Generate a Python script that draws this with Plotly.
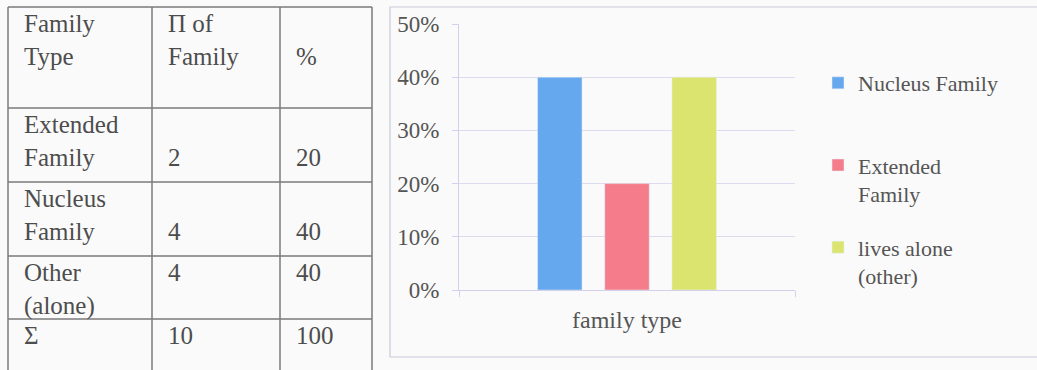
import plotly.graph_objects as go

W, H = 1037, 370

# ---- table data ----
header = ["Family<br>Type", "Π of<br>Family", "%"]
family_types = ["Extended<br>Family", "Nucleus<br>Family", "Other<br>(alone)"]
counts = [2, 4, 4]
percents = [20, 40, 40]
total_label = "Σ"
total_count = 10
total_percent = 100

# ---- chart data ----
series_names = ["Nucleus Family", "Extended<br>Family", "lives alone<br>(other)"]
series_values = [40, 20, 40]
category = ["family type"]
y_ticks = [0, 10, 20, 30, 40, 50]
y_tick_labels = [f"{v}%" for v in y_ticks]

# ---- styles ----
colors = ["#65a8ee", "#f57d8b", "#dbe46e"]
header_line = [1, 1, 2]     # which line the header text starts on
value_line = [2, 2, 1]      # which line numbers sit on in body rows
legend_pad_lines = [1, 0, 0]
text_color = "#4d4d4d"
FONT = "Liberation Serif, Times New Roman, serif"

col_edges = [8, 152, 280, 372]
row_edges = [7, 108, 182, 256, 319]


def fx(x):
    return x / W


def fy(y):
    return 1 - y / H


fig = go.Figure()
for name, val, col, pad in zip(series_names, series_values, colors, legend_pad_lines):
    label = name + "<br>&nbsp;" * pad
    fig.add_trace(go.Bar(x=category, y=[val], name=label, marker_color=col,
                         legendgroup=name))

shapes = []
annotations = []
line_style = dict(color="#7a7a7a", width=1.5)
# table grid
for x in col_edges:
    shapes.append(dict(type="line", xref="paper", yref="paper",
                       x0=fx(x), x1=fx(x), y0=fy(row_edges[0]), y1=fy(H),
                       line=line_style))
for y in row_edges:
    shapes.append(dict(type="line", xref="paper", yref="paper",
                       x0=fx(col_edges[0]), x1=fx(col_edges[-1]), y0=fy(y), y1=fy(y),
                       line=line_style))
# chart frame
shapes.append(dict(type="rect", xref="paper", yref="paper",
                   x0=fx(390), x1=fx(W + 5), y0=fy(357), y1=fy(7),
                   line=dict(color="#c9c9da", width=1.2), layer="below"))

rows = [list(header)]
for ft, c, p, vl in zip(family_types, counts, percents, value_line):
    pre = "&nbsp;<br>" * (vl - 1)
    rows.append([ft, pre + str(c), pre + str(p)])
rows.append([total_label, str(total_count), str(total_percent)])

for r, row in enumerate(rows):
    for c, txt in enumerate(row):
        if r == 0:
            txt = "&nbsp;<br>" * (header_line[c] - 1) + txt
        annotations.append(dict(
            x=fx(col_edges[c] + 14), y=fy(row_edges[r] + 1),
            xref="paper", yref="paper", xanchor="left", yanchor="top",
            text=txt, showarrow=False, align="left",
            font=dict(family=FONT, size=25, color=text_color)))

fig.update_layout(
    width=W, height=H,
    margin=dict(l=0, r=0, t=0, b=0, autoexpand=False),
    paper_bgcolor="#fafafa",
    plot_bgcolor="rgba(0,0,0,0)",
    font=dict(family=FONT, size=22, color="#555555"),
    barmode="group",
    bargap=0.40,
    bargroupgap=0.338,
    showlegend=True,
    legend=dict(x=fx(818), y=fy(62), xanchor="left", yanchor="top",
                valign="top", tracegroupgap=22,
                font=dict(family=FONT, size=22, color="#555555"),
                bgcolor="rgba(0,0,0,0)"),
    shapes=shapes,
    annotations=annotations,
    xaxis=dict(domain=[fx(459), fx(795)], showline=True, linecolor="#d2d0ea",
               ticks="outside", tickson="boundaries", ticklen=6,
               tickcolor="#d2d0ea", ticklabelstandoff=8, automargin=False,
               tickfont=dict(size=24)),
    yaxis=dict(domain=[fy(290), fy(24)], range=[0, 50], tickvals=y_ticks,
               ticktext=y_tick_labels, showline=True, linecolor="#d2d0ea",
               ticks="outside", ticklen=6, tickcolor="#d2d0ea",
               gridcolor="#dedbf0", gridwidth=1, zeroline=False,
               ticklabelstandoff=8, automargin=False, tickfont=dict(size=23)),
)

fig.write_html("out.html")
